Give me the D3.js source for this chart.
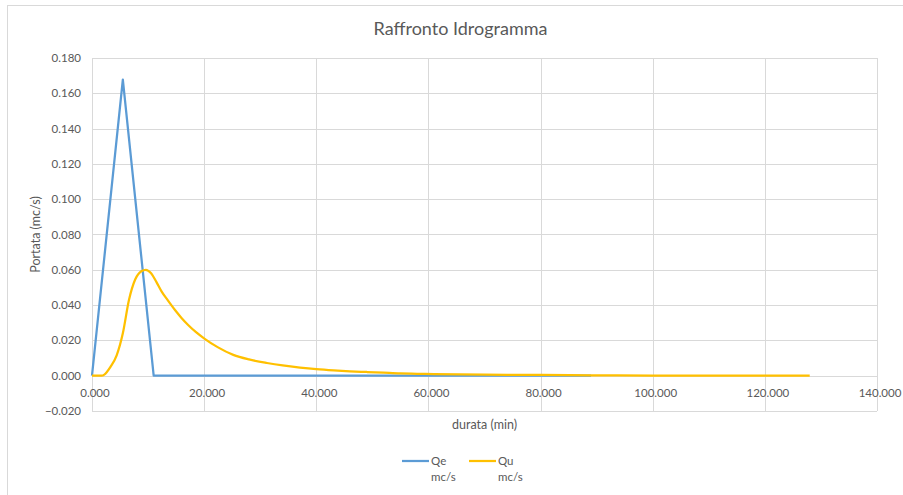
<!DOCTYPE html>
<html>
<head>
<meta charset="utf-8">
<script src="https://cdn.jsdelivr.net/npm/d3@7"></script>
<style>
  body { margin: 0; background: #fff; }
  svg { display: block; font-family: Lato, "Open Sans", sans-serif; }
</style>
</head>
<body>
<svg width="903" height="495"></svg>
<script>
// durata (min) / portata (mc/s)
var qeTime = [0, 5.5, 11.0, 89.0];
var qeFlow = [0, 0.1677, 0, 0];

var quTime = [0, 1.7, 2.2, 3.3, 4.4, 5.5, 6.6, 7.7, 8.8, 9.6, 10.5, 11.5, 12.4, 13.5, 14.8, 16.0,
              17.1, 18.5, 20.1, 22.4, 25.2, 28.0, 31.2, 34.0, 37.1, 40.0, 43.1, 46.0, 49.0, 52.0,
              55.0, 58.0, 61.0, 70.0, 80.0, 89.0, 100.0, 110.0, 128.0];
var quFlow = [0, 0, 0.0006, 0.0050, 0.0115, 0.0240, 0.0430, 0.0545, 0.0592, 0.0600, 0.0582, 0.0530, 0.0478, 0.0428, 0.0372, 0.0326,
              0.0289, 0.0248, 0.0209, 0.0162, 0.0118, 0.0092, 0.0072, 0.0058, 0.0046, 0.0037, 0.0030, 0.0025, 0.0021, 0.0017,
              0.0013, 0.0011, 0.0009, 0.0006, 0.0004, 0.0002, 0.0001, 0.0001, 0];

var xTicks = [0, 20, 40, 60, 80, 100, 120, 140];
var yTicks = [-0.02, 0, 0.02, 0.04, 0.06, 0.08, 0.10, 0.12, 0.14, 0.16, 0.18];

var seriesNames = ["Qe", "Qu"];
var seriesUnits = ["mc/s", "mc/s"];
var seriesColors = ["#5B9BD5", "#FFC000"];

var svg = d3.select("svg"),
    width = +svg.attr("width"),
    height = +svg.attr("height");

var textColor = "#595959",
    gridColor = "#D9D9D9";

// chart frame (cut off at right and bottom in the original)
svg.append("rect")
    .attr("x", 7.5).attr("y", 5.5)
    .attr("width", width + 20).attr("height", height + 20)
    .attr("fill", "none")
    .attr("stroke", gridColor);

var plot = { left: 92, right: 877, top: 58, bottom: 411 };

var x = d3.scaleLinear().domain([0, 140]).range([plot.left, plot.right]);
var y = d3.scaleLinear().domain([-0.02, 0.18]).range([plot.bottom, plot.top]);

// grid
svg.append("g").selectAll("line")
    .data(yTicks)
    .enter().append("line")
        .attr("x1", plot.left).attr("x2", plot.right)
        .attr("y1", function(d) { return Math.round(y(d)) + 0.5; })
        .attr("y2", function(d) { return Math.round(y(d)) + 0.5; })
        .attr("stroke", gridColor);

svg.append("g").selectAll("line")
    .data(xTicks)
    .enter().append("line")
        .attr("x1", function(d) { return Math.round(x(d)) + 0.5; })
        .attr("x2", function(d) { return Math.round(x(d)) + 0.5; })
        .attr("y1", plot.top).attr("y2", plot.bottom)
        .attr("stroke", gridColor);

// y tick labels
svg.append("g").selectAll("text")
    .data(yTicks)
    .enter().append("text")
        .attr("x", plot.left - 11)
        .attr("y", function(d) { return y(d) + 4; })
        .attr("text-anchor", "end")
        .attr("font-size", 11.5)
        .attr("fill", textColor)
        .text(function(d) { return d3.format(".3f")(d); });

// x tick labels, sitting under the zero line
svg.append("g").selectAll("text")
    .data(xTicks)
    .enter().append("text")
        .attr("x", function(d) { return x(d) + 3; })
        .attr("y", y(0) + 21)
        .attr("text-anchor", "middle")
        .attr("font-size", 11.5)
        .attr("fill", textColor)
        .text(function(d) { return d3.format(".3f")(d); });

// lines
var qeLine = d3.line()
    .x(function(d, i) { return x(qeTime[i]); })
    .y(function(d) { return y(d); });

var quLine = d3.line()
    .x(function(d, i) { return x(quTime[i]); })
    .y(function(d) { return y(d); })
    .curve(d3.curveMonotoneX);

svg.append("path")
    .attr("d", qeLine(qeFlow))
    .attr("fill", "none")
    .attr("stroke", seriesColors[0])
    .attr("stroke-width", 2.25)
    .attr("stroke-linejoin", "round");

svg.append("path")
    .attr("d", quLine(quFlow))
    .attr("fill", "none")
    .attr("stroke", seriesColors[1])
    .attr("stroke-width", 2.25)
    .attr("stroke-linejoin", "round");

// titles
svg.append("text")
    .attr("x", (plot.left + plot.right) / 2 - 24)
    .attr("y", 35)
    .attr("text-anchor", "middle")
    .attr("font-size", 18)
    .attr("fill", textColor)
    .text("Raffronto Idrogramma");

svg.append("text")
    .attr("x", (plot.left + plot.right) / 2)
    .attr("y", 429)
    .attr("text-anchor", "middle")
    .attr("font-size", 12.5)
    .attr("fill", textColor)
    .text("durata (min)");

svg.append("text")
    .attr("transform", "translate(40," + ((plot.top + plot.bottom) / 2) + ") rotate(-90)")
    .attr("text-anchor", "middle")
    .attr("font-size", 12.5)
    .attr("fill", textColor)
    .text("Portata (mc/s)");

// legend
var legendX = [402, 469];
var legend = svg.append("g").selectAll("g")
    .data(seriesNames)
    .enter().append("g")
        .attr("transform", function(d, i) { return "translate(" + legendX[i] + ",461)"; });

legend.append("line")
    .attr("x1", 0).attr("x2", 27)
    .attr("stroke", function(d, i) { return seriesColors[i]; })
    .attr("stroke-width", 2.25);

legend.append("text")
    .attr("x", 29).attr("y", 4)
    .attr("font-size", 11.5)
    .attr("fill", textColor)
    .text(function(d) { return d; });

legend.append("text")
    .attr("x", 29).attr("y", 20)
    .attr("font-size", 11.5)
    .attr("fill", textColor)
    .text(function(d, i) { return seriesUnits[i]; });
</script>
</body>
</html>
